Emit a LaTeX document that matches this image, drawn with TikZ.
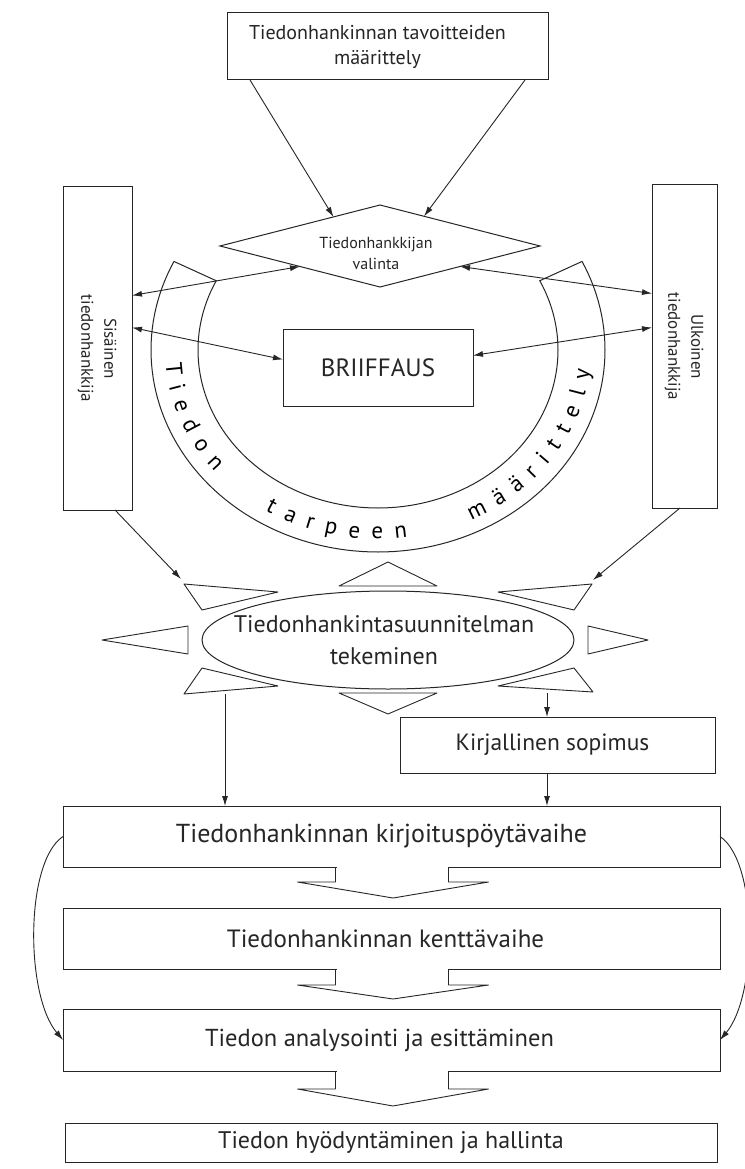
\documentclass[tikz,border=0pt]{standalone}
\usepackage{fontspec}
\setmainfont{PT Sans}
\usepackage{graphicx}
\usetikzlibrary{shapes.geometric,arrows.meta,calc,decorations.text}
\newcommand\bandfont{\fontsize{23}{23}\selectfont}
\newcommand\mychev[3]{%
  \fill[white] ($(#1.south)+(-55,-1.5)$) rectangle ($(#1.south)+(57,1.5)$);
  \draw[line width=0.9pt, line join=round] ($(#1.south)+(-56,0)$) -- ++(0,#2) -- ++(-38,0) -- ($(#1.south)+(1.5,#3)$) -- ($(#1.south)+(97,#2)$) -- ($(#1.south)+(57,#2)$) -- ++(0,-#2);
}
\begin{document}
\begin{tikzpicture}[x=1pt,y=-1pt,line width=1pt,color=black!85,
  box/.style={draw, rectangle, inner sep=0pt, outer sep=0pt, align=center},
  arr/.style={-{Latex[length=10pt,width=6pt]}, line width=0.9pt},
  darr/.style={{Latex[length=10pt,width=6pt]}-{Latex[length=10pt,width=6pt]}, line width=0.9pt},
  ray/.style={draw, fill=white, line width=0.9pt, line join=round},
  fs/.style={font=\fontsize{#1}{30}\selectfont}]
\useasboundingbox (0,0) rectangle (744,1169);
\fill[white] (0,0) rectangle (744,1169);

% top box and diamond
\node[box, minimum width=321pt, minimum height=67pt, font=\fontsize{20}{25}\selectfont] (top) at (387.5,46.5) {\hspace*{-20pt}Tiedonhankinnan tavoitteiden\\\hspace*{-20pt}määrittely};
\node[draw, diamond, minimum width=320pt, minimum height=82pt, inner sep=0pt, outer sep=0pt] (dia) at (380,246) {};
\node[font=\fontsize{16}{21}\selectfont, align=center] (diatext) at (376,253) {Tiedonhankkijan\\valinta};
\draw[arr] ($(top.south west)+(23,0)$) -- (dia.148);
\draw[arr] ($(top.south east)+(-23,0)$) -- (dia.34);

% side boxes
\node[box, minimum width=69pt, minimum height=323pt] (sis) at (97.5,348.5) {\rotatebox{-90}{\fontsize{17}{23}\selectfont\begin{tabular}{@{}c@{}}Sisäinen\\tiedonhankkija\end{tabular}}};
\node[box, minimum width=65pt, minimum height=323pt] (ulk) at (684.5,346.5) {\rotatebox{-90}{\fontsize{17}{23}\selectfont\begin{tabular}{@{}c@{}}Ulkoinen\\tiedonhankkija\end{tabular}}};

% band
\draw plot[samples at={206,204,...,-26}] ({378+227*cos(\x)},{350+202*sin(\x)}) -- plot[samples at={-26,-24,...,206}] ({378+180*cos(\x)},{350+158*sin(\x)}) -- cycle;
\path[decoration={text along path, text={|\bandfont|Tiedon}, text align={fit to path}}, decorate] plot[samples at={176,174,...,140}] ({378+213*cos(\x)},{350+189*sin(\x)});
\path[decoration={text along path, text={|\bandfont|tarpeen}, text align={fit to path}}, decorate] plot[samples at={122,120,...,82}] ({378+213*cos(\x)},{350+189*sin(\x)});
\path[decoration={text along path, text={|\bandfont|määrittely}, text align={fit to path}}, decorate] plot[samples at={64,62,...,6}] ({378+213*cos(\x)},{350+189*sin(\x)});

% briiffaus
\node[box, minimum width=190pt, minimum height=77pt, font=\fontsize{25}{30}\selectfont] (brief) at (378,367.5) {BRIIFFAUS};

\draw[darr] ($(sis.east)+(0,-53)$) -- (dia.south west);
\draw[darr] ($(sis.east)+(0,-21)$) -- ($(brief.west)+(0,-8)$);
\draw[darr] ($(ulk.west)+(0,-53)$) -- (dia.south east);
\draw[darr] ($(ulk.west)+(0,-19)$) -- ($(brief.east)+(0,-12)$);

% starburst
\node[draw, ellipse, minimum width=372pt, minimum height=98pt, inner sep=0pt, outer sep=0pt] (plan) at (388,640) {};
\node[font=\fontsize{24}{32}\selectfont, align=center] (plantext) at (384,640) {Tiedonhankintasuunnitelman\\tekeminen};
\begin{scope}[shift={(388,640)}]
  \draw[ray] (-49,-54) -- (49,-54) -- (0,-78) -- cycle;
  \draw[ray] (-49,53) -- (49,53) -- (0,74) -- cycle;
  \draw[ray] (-200,-14) -- (-200,14) -- (-286,0) -- cycle;
  \draw[ray] (200,-14) -- (200,14) -- (260,0) -- cycle;
  \draw[ray] (-204,-56) -- (-110,-48) -- (-186,-30) -- cycle;
  \draw[ray] (204,-56) -- (110,-48) -- (186,-30) -- cycle;
  \draw[ray] (-204,54) -- (-110,46) -- (-186,28) -- cycle;
  \draw[ray] (205,52) -- (110,46) -- (186,28) -- cycle;
\end{scope}
\coordinate (tipL) at (181,579);
\coordinate (tipR) at (593,580);
\draw[arr] ($(sis.south east)+(-17,0)$) -- (tipL);
\draw[arr] ($(ulk.south west)+(28,0)$) -- (tipR);

% lower boxes
\node[box, minimum width=315pt, minimum height=56pt, fs=23.5] (kir) at (557.5,745) {\hspace*{-10pt}Kirjallinen sopimus};
\node[box, minimum width=657pt, minimum height=61pt, fs=26] (b1) at (391.5,836.5) {\hspace*{-20pt}Tiedonhankinnan kirjoituspöytävaihe};
\node[box, minimum width=657pt, minimum height=61pt, fs=25] (b2) at (391.5,938.5) {\hspace*{-12pt}Tiedonhankinnan kenttävaihe};
\node[box, minimum width=657pt, minimum height=62pt, fs=24.5] (b3) at (391.5,1040) {\hspace*{-24pt}Tiedon analysointi ja esittäminen};
\node[box, minimum width=652pt, minimum height=39pt, fs=24] (b4) at (391,1143) {Tiedon hyödyntäminen ja hallinta};

\coordinate (dL) at (225,694);
\coordinate (dR) at (547,693);
\draw[arr] (dL) -- (dL |- b1.north);
\draw[arr] (dR) -- (dR |- kir.north);
\draw[arr] (dR |- kir.south) -- (dR |- b1.north);

\mychev{b1}{15}{31}
\mychev{b2}{16}{30}
\mychev{b3}{18}{35}

\draw[arr] (b1.west) .. controls +(-38,25) and +(-38,-45) .. (b3.west);
\draw[arr] (b1.east) .. controls +(38,25) and +(38,-45) .. (b3.east);
\end{tikzpicture}
\end{document}
